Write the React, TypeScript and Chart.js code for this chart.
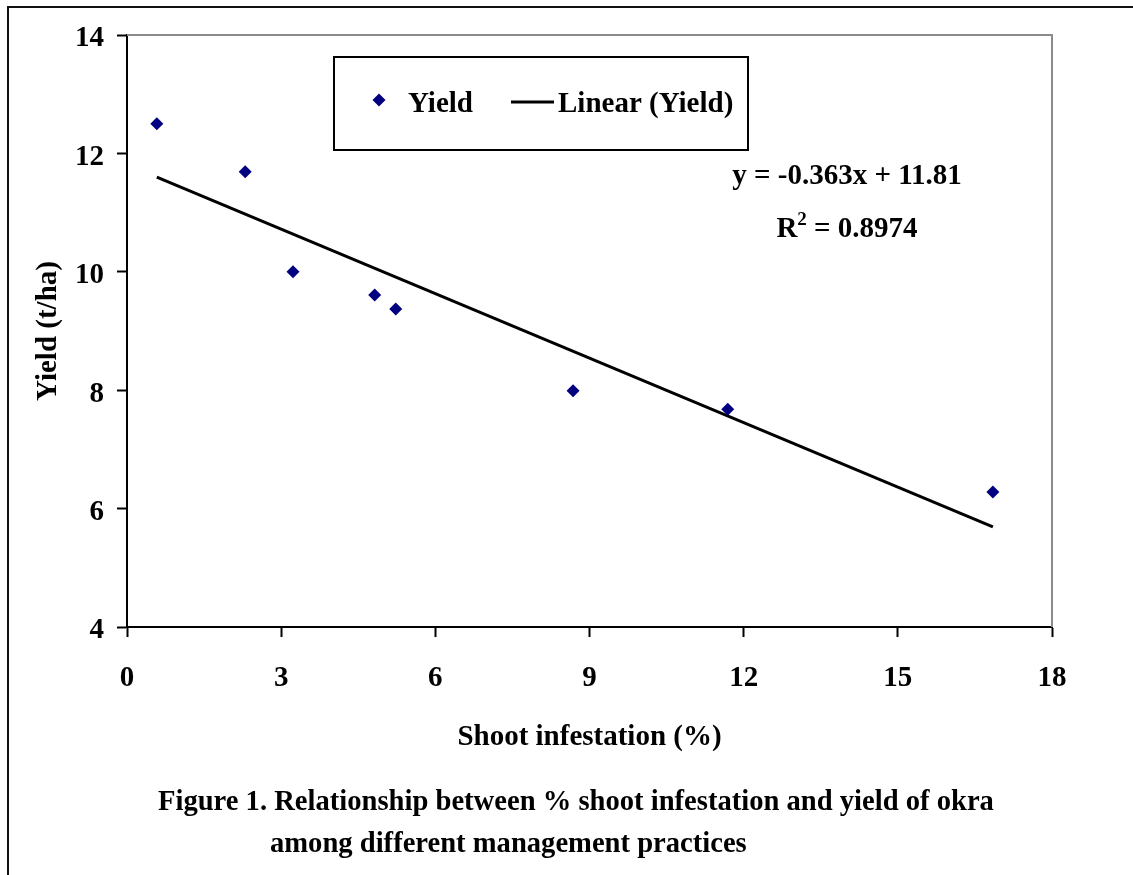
import React, { useEffect, useRef } from "react";
import { Chart, registerables } from "chart.js";

Chart.register(...registerables);

// ---- data ----
const infestation = [0.58, 2.3, 3.23, 4.82, 5.23, 8.68, 11.69, 16.85];
const yieldValues = [12.5, 11.69, 10.0, 9.61, 9.37, 7.99, 7.68, 6.28];
const trendX = [0.58, 16.85];
const trendY = [11.6, 5.69];
const xTicks = [0, 3, 6, 9, 12, 15, 18];
const yTicks = [4, 6, 8, 10, 12, 14];
const seriesLabels = ["Yield", "Linear (Yield)"];
const equationLine = "y = -0.363x + 11.81";
const r2Value = "0.8974";
const captionLines = [
  "Figure 1. Relationship between % shoot infestation and yield of okra",
  "among different management practices",
];
const xTitle = "Shoot infestation (%)";
const yTitle = "Yield (t/ha)";

const FAMILY = "'Liberation Serif', 'Times New Roman', serif";
const FS = 29;
const W = 1133;
const H = 875;
const MARKER = "#000080";

const decorPlugin = {
  id: "decor",
  beforeDatasetsDraw(chart: any) {
    const { ctx, chartArea } = chart;
    ctx.save();
    ctx.strokeStyle = "#8a8a8a";
    ctx.lineWidth = 2;
    ctx.beginPath();
    ctx.moveTo(chartArea.left, chartArea.top);
    ctx.lineTo(chartArea.right, chartArea.top);
    ctx.lineTo(chartArea.right, chartArea.bottom);
    ctx.stroke();
    ctx.restore();
  },
  afterDraw(chart: any) {
    const { ctx } = chart;
    ctx.save();
    // outer frame
    ctx.strokeStyle = "#111";
    ctx.lineWidth = 2;
    ctx.beginPath();
    ctx.moveTo(8, H);
    ctx.lineTo(8, 7);
    ctx.lineTo(W, 7);
    ctx.stroke();

    // legend box
    ctx.fillStyle = "#fff";
    ctx.fillRect(334, 57, 414, 93);
    ctx.strokeStyle = "#000";
    ctx.lineWidth = 2;
    ctx.strokeRect(334, 57, 414, 93);

    ctx.fillStyle = MARKER;
    ctx.beginPath();
    ctx.moveTo(379, 100 - 6.5);
    ctx.lineTo(379 + 6.5, 100);
    ctx.lineTo(379, 100 + 6.5);
    ctx.lineTo(379 - 6.5, 100);
    ctx.closePath();
    ctx.fill();
    ctx.strokeStyle = "#000";
    ctx.lineWidth = 3;
    ctx.beginPath();
    ctx.moveTo(511, 102);
    ctx.lineTo(554, 102);
    ctx.stroke();

    ctx.fillStyle = "#000";
    ctx.font = `bold ${FS}px ${FAMILY}`;
    ctx.textAlign = "left";
    ctx.textBaseline = "alphabetic";
    ctx.fillText(seriesLabels[0], 408, 112);
    ctx.fillText(seriesLabels[1], 558, 112);

    // equation
    ctx.textAlign = "center";
    ctx.fillText(equationLine, 847, 184);
    const rW = ctx.measureText("R").width;
    const rest = " = " + r2Value;
    const restW = ctx.measureText(rest).width;
    ctx.font = `bold 19px ${FAMILY}`;
    const supW = ctx.measureText("2").width;
    const total = rW + supW + restW;
    const x0 = 847 - total / 2;
    ctx.textAlign = "left";
    ctx.font = `bold ${FS}px ${FAMILY}`;
    ctx.fillText("R", x0, 237);
    ctx.font = `bold 19px ${FAMILY}`;
    ctx.fillText("2", x0 + rW, 225);
    ctx.font = `bold ${FS}px ${FAMILY}`;
    ctx.fillText(rest, x0 + rW + supW, 237);

    // caption
    ctx.font = `bold 28.6px ${FAMILY}`;
    ctx.fillText(captionLines[0], 158, 810);
    ctx.fillText(captionLines[1], 270, 852);
    ctx.restore();
  },
};

export default function App() {
  const ref = useRef<HTMLCanvasElement | null>(null);

  useEffect(() => {
    if (!ref.current) return;
    const font = { family: FAMILY, size: FS, weight: "bold" as const };
    const chart = new Chart(ref.current, {
      type: "scatter",
      data: {
        datasets: [
          {
            label: seriesLabels[0],
            data: infestation.map((x, i) => ({ x, y: yieldValues[i] })),
            pointStyle: "rectRot",
            pointRadius: 6.5,
            pointBackgroundColor: MARKER,
            pointBorderColor: MARKER,
            borderWidth: 0,
            showLine: false,
            order: 1,
          },
          {
            label: seriesLabels[1],
            data: trendX.map((x, i) => ({ x, y: trendY[i] })),
            showLine: true,
            borderColor: "#000",
            borderWidth: 3,
            pointRadius: 0,
            order: 2,
          },
        ],
      },
      options: {
        responsive: false,
        animation: false,
        devicePixelRatio: 1,
        layout: { padding: { left: 0, top: 35, right: 81, bottom: 0 } },
        plugins: {
          legend: { display: false },
          tooltip: { enabled: false },
        },
        scales: {
          x: {
            type: "linear",
            min: 0,
            max: 18,
            afterBuildTicks: (s: any) => {
              s.ticks = xTicks.map((v) => ({ value: v }));
            },
            afterFit: (s: any) => {
              s.height = H - 627;
            },
            grid: {
              drawOnChartArea: false,
              drawTicks: true,
              tickLength: 10,
              tickColor: "#000",
              tickWidth: 2,
            },
            border: { color: "#000", width: 2 },
            ticks: {
              color: "#000",
              font,
              padding: 24,
              maxRotation: 0,
              callback: (v: any) => String(v),
            },
            title: {
              display: true,
              text: xTitle,
              color: "#000",
              font,
              padding: { top: 0, bottom: 120 },
            },
          },
          y: {
            type: "linear",
            min: 4,
            max: 14,
            afterBuildTicks: (s: any) => {
              s.ticks = yTicks.map((v) => ({ value: v }));
            },
            afterFit: (s: any) => {
              s.width = 127;
            },
            grid: {
              drawOnChartArea: false,
              drawTicks: true,
              tickLength: 10,
              tickColor: "#000",
              tickWidth: 2,
            },
            border: { color: "#000", width: 2 },
            ticks: {
              color: "#000",
              font,
              padding: 13,
              labelOffset: 4,
              callback: (v: any) => String(v),
            },
            title: {
              display: true,
              text: yTitle,
              color: "#000",
              font,
              padding: { top: 31, bottom: 0 },
            },
          },
        },
      },
      plugins: [decorPlugin],
    });
    return () => chart.destroy();
  }, []);

  return (
    <div
      style={{
        position: "absolute",
        left: 0,
        top: 0,
        width: W,
        height: H,
        background: "#fff",
        overflow: "hidden",
      }}
    >
      <canvas ref={ref} width={W} height={H} style={{ width: W, height: H, display: "block" }} />
    </div>
  );
}
